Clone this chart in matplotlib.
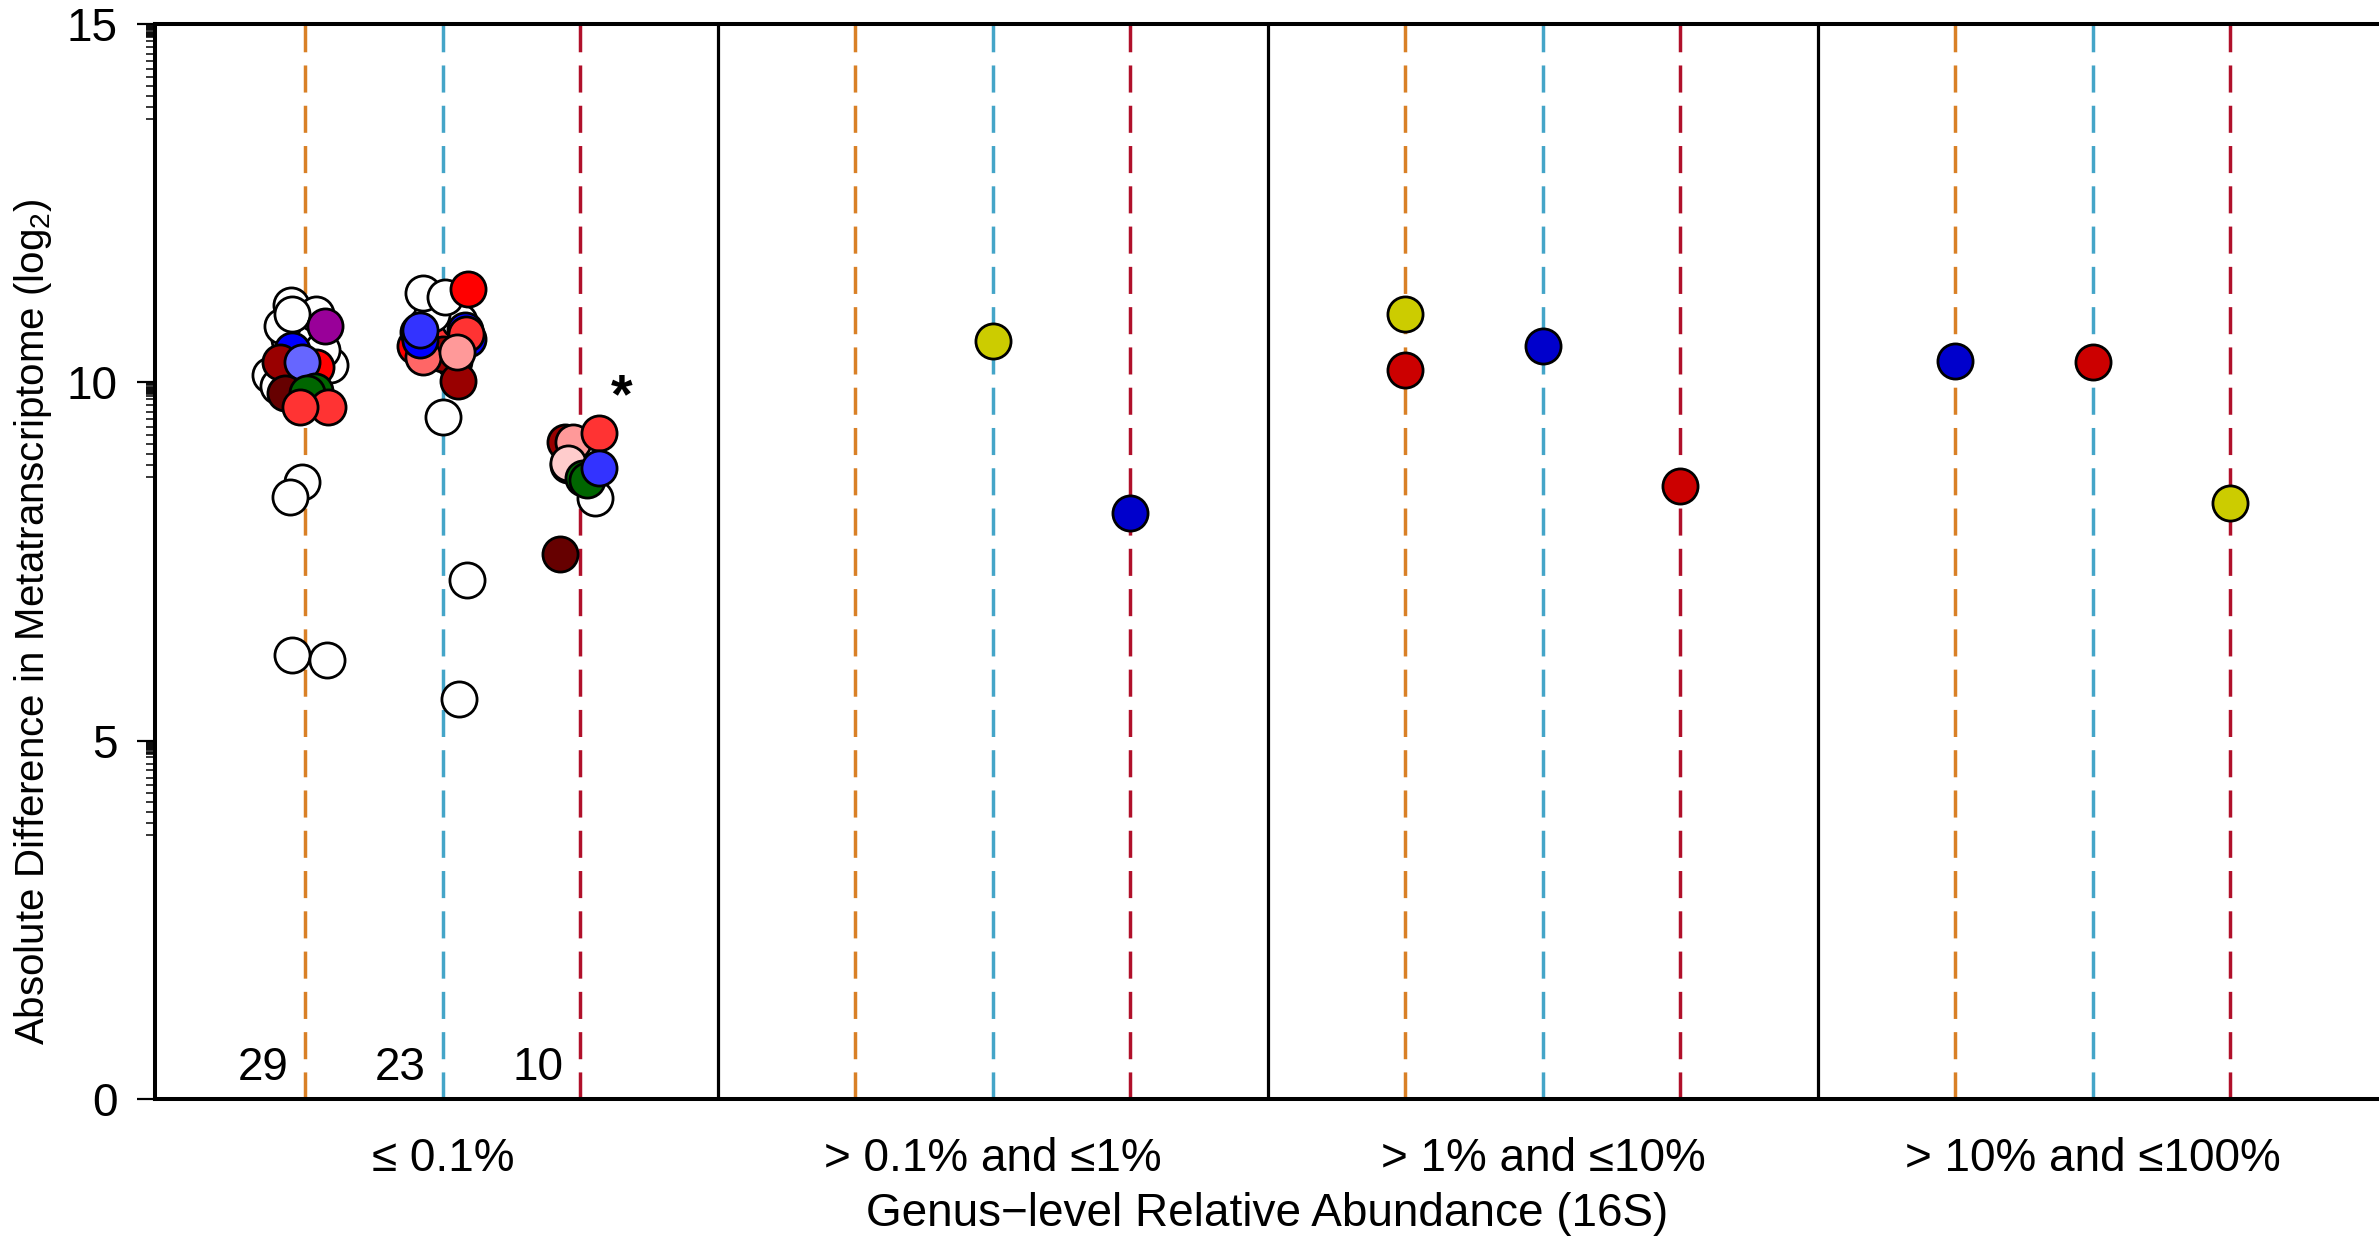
import matplotlib
matplotlib.use('Agg')
import matplotlib.pyplot as plt
import numpy as np

plt.rcParams['font.family'] = ['Liberation Sans', 'DejaVu Sans']
plt.rcParams['mathtext.fontset'] = 'custom'
plt.rcParams['mathtext.rm'] = 'Liberation Sans'
plt.rcParams['mathtext.it'] = 'Liberation Sans:italic'

# abundance bins along x, three lanes inside each bin
bins = ['\u2264 0.1%', '> 0.1% and \u22641%', '> 1% and \u226410%', '> 10% and \u2264100%']
lane_cols = ['#D98026', '#44A5C8', '#B0102A']
lane_n = ['29', '23', '10']

fills = {'w': '#FFFFFF', 'pu': '#990099', 'b': '#0000FF', 'b2': '#3333FF', 'b3': '#6666FF',
         'dr': '#990000', 'mr': '#660000', 'r': '#FF0000', 'r2': '#FF3333', 'sa': '#FF6666',
         'pk': '#FF9999', 'pp': '#FFCCCC', 'g': '#006600', 'y': '#CCCC00',
         'R': '#CC0000', 'B': '#0000CC'}

# lowest bin, first lane (29 genera)
g1_x = [0.74, 0.74, 0.73, 0.76, 0.75, 0.686, 0.72, 0.76, 0.70, 0.795, 0.78,
        0.723, 0.770, 0.707, 0.725, 0.785, 0.725, 0.704, 0.770, 0.743, 0.713,
        0.767, 0.752, 0.791, 0.740, 0.743, 0.722, 0.725, 0.790]
g1_y = [10.70, 10.50, 10.05, 9.95, 10.20, 10.10, 10.60, 10.55, 9.95, 10.24, 10.45,
        11.08, 10.96, 10.79, 10.95, 10.78, 10.45, 10.29, 10.22, 10.29, 9.85,
        9.88, 9.85, 9.66, 9.66, 8.61, 8.40, 6.20, 6.13]
g1_c = ['w', 'b', 'dr', 'g', 'r', 'w', 'w', 'w', 'w', 'w', 'w',
        'w', 'w', 'w', 'w', 'pu', 'b', 'dr', 'r', 'b3', 'mr',
        'g', 'g', 'r2', 'r2', 'w', 'w', 'w', 'w']

# second lane (23 genera)
g2_x = [0.97, 1.01, 0.99, 1.02, 0.95, 1.03, 0.98, 1.00, 0.955,
        0.964, 1.028, 1.045, 1.040, 1.042, 1.025, 0.958, 0.958,
        0.964, 1.004, 1.045, 1.000, 1.043, 1.029]
g2_y = [10.80, 10.75, 10.55, 10.30, 10.50, 10.85, 10.95, 10.40, 10.70,
        10.36, 10.02, 10.61, 10.73, 10.68, 10.43, 10.59, 10.73,
        11.24, 11.19, 11.30, 9.52, 7.24, 5.58]
g2_c = ['w', 'b', 'r2', 'sa', 'r', 'w', 'w', 'dr', 'b',
        'sa', 'dr', 'b', 'b', 'r2', 'pk', 'b', 'b2',
        'w', 'w', 'r', 'w', 'w', 'w']

# third lane (10 genera)
g3_x = [1.222, 1.228, 1.236, 1.276, 1.284, 1.228, 1.255, 1.261, 1.283, 1.213]
g3_y = [9.17, 8.85, 9.17, 8.38, 9.29, 8.87, 8.66, 8.64, 8.81, 7.61]
g3_c = ['dr', 'w', 'pk', 'w', 'r2', 'pp', 'g', 'g', 'b2', 'mr']

# higher bins, one genus per point
hi_x = [2.0, 2.25, 2.75, 2.75, 3.0, 3.25, 3.75, 4.0, 4.25]
hi_y = [10.58, 8.18, 10.95, 10.17, 10.51, 8.56, 10.30, 10.28, 8.31]
hi_c = ['y', 'B', 'y', 'R', 'B', 'R', 'B', 'R', 'y']

star_x, star_y = 1.325, 9.58

fig = plt.figure(figsize=(23.79, 12.37), dpi=100)
ax = fig.add_axes([0.06515, 0.11156, 0.93485, 0.86904])

offs = [-0.25, 0.0, 0.25]
for i in range(len(bins)):
    for k in range(3):
        ax.axvline(i + 1 + offs[k], color=lane_cols[k], lw=2.5,
                   linestyle=(0, (7.8, 3.8)), zorder=1)
for s in [1.5, 2.5, 3.5]:
    ax.axvline(s, color='black', lw=2.3, zorder=1)

for xs, ys, cs in [(g1_x, g1_y, g1_c), (g2_x, g2_y, g2_c), (g3_x, g3_y, g3_c), (hi_x, hi_y, hi_c)]:
    for x, y, c in zip(xs, ys, cs):
        ax.scatter(x, y, s=640, c=fills[c], edgecolors='black', linewidths=2.0, zorder=3)

for k in range(3):
    ax.text(1 + offs[k] - 0.031, 0.265, lane_n[k], ha='right', va='baseline', fontsize=33)

ax.text(star_x, star_y, '*', ha='center', va='baseline', fontsize=40, fontweight='bold')

ax.set_xlim(0.4764, 4.52)
ax.set_ylim(0, 15)

ax.set_yticks([0, 5, 10, 15])
ax.set_yticklabels(['0', '5', '10', '15'], fontsize=33)
minor = []
for m in [5, 10, 15]:
    for f in list(np.arange(1, 13) / 100) + list(np.arange(15, 65, 5) / 100):
        minor.append(m + np.log2(1 - f))
ax.set_yticks(minor, minor=True)
ax.tick_params(axis='y', which='major', length=13, width=1.6, pad=14)
ax.tick_params(axis='y', which='minor', length=6.5, width=1.1)

ax.set_xticks([1, 2, 3, 4])
ax.set_xticklabels(bins, fontsize=33)
ax.tick_params(axis='x', length=0, pad=27)

ax.set_xlabel('Genus\u2212level Relative Abundance (16S)', fontsize=33, va='baseline')
ax.xaxis.set_label_coords(0.5, -0.118)
ax.set_ylabel('Absolute Difference in Metatranscriptome (log$_2$)', fontsize=29, va='center')
ax.yaxis.set_label_coords(-0.0549, 0.4437)

for side in ['left', 'top', 'bottom']:
    ax.spines[side].set_linewidth(2.9)
ax.spines['right'].set_visible(False)

fig.savefig('out.png', dpi=100)
